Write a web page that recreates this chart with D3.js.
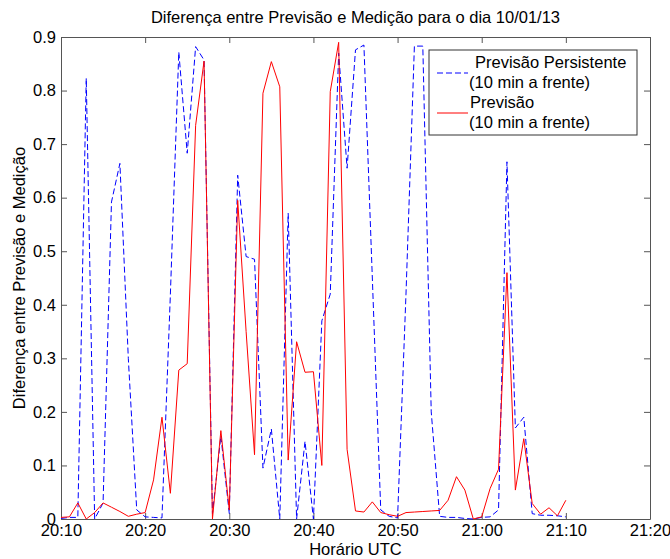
<!DOCTYPE html>
<html>
<head>
<meta charset="utf-8">
<script src="https://cdn.jsdelivr.net/npm/d3@7"></script>
<style>
  body { margin: 0; background: #fff; }
  svg text { font-family: "Liberation Sans", Arial, sans-serif; fill: #000; }
</style>
</head>
<body>
<svg id="chart" width="670" height="559"></svg>
<script>
// data: one sample per minute starting at 20:10
const startTime = "20:10";
const persistente = [0.001, 0.003, 0.003, 0.823, 0.0, 0.03, 0.592, 0.664, 0.30, 0.017,
  0.004, 0.003, 0.002, 0.42, 0.872, 0.683, 0.882, 0.857, 0.01, 0.155,
  0.01, 0.642, 0.49, 0.485, 0.095, 0.168, 0.0, 0.571, 0.0, 0.145,
  0.0, 0.37, 0.42, 0.87, 0.655, 0.876, 0.885, 0.45, 0.017, 0.005,
  0.002, 0.42, 0.883, 0.883, 0.2, 0.005, 0.003, 0.003, 0.001, 0.0,
  0.003, 0.004, 0.017, 0.667, 0.17, 0.19, 0.01, 0.007, 0.007, 0.006, 0.004];
const previsao = [0.003, 0.004, 0.03, 0.0, 0.012, 0.03, 0.022, 0.014, 0.005, 0.009,
  0.012, 0.073, 0.19, 0.048, 0.278, 0.29, 0.735, 0.855, 0.0, 0.165,
  0.017, 0.595, 0.35, 0.12, 0.795, 0.854, 0.807, 0.11, 0.331, 0.274,
  0.275, 0.10, 0.798, 0.89, 0.13, 0.015, 0.013, 0.032, 0.012, 0.008,
  0.005, 0.012, 0.013, 0.014, 0.015, 0.016, 0.035, 0.079, 0.054, 0.0,
  0.004, 0.057, 0.093, 0.46, 0.054, 0.15, 0.029, 0.009, 0.021, 0.006, 0.035];
const xTickLabels = ["20:10", "20:20", "20:30", "20:40", "20:50", "21:00", "21:10", "21:20"];
const yTicks = [0, 0.1, 0.2, 0.3, 0.4, 0.5, 0.6, 0.7, 0.8, 0.9];
const legendLabels = [["Previsão Persistente", "(10 min a frente)"], ["Previsão", "(10 min a frente)"]];

const svg = d3.select("svg#chart");
const width = +svg.attr("width");
const height = +svg.attr("height");
const margin = { top: 37, right: 20, bottom: 40, left: 61 };
const fontSize = 16.5;

const parseTime = d3.utcParse("%H:%M");
const t0 = parseTime(startTime);
const times = persistente.map((_, i) => d3.utcMinute.offset(t0, i));

const x = d3.scaleUtc()
    .domain([parseTime(xTickLabels[0]), parseTime(xTickLabels[xTickLabels.length - 1])])
    .range([margin.left, width - margin.right]);
const y = d3.scaleLinear()
    .domain([0, 0.9])
    .range([height - margin.bottom, margin.top]);

svg.append("rect").attr("width", width).attr("height", height).attr("fill", "#fff");

// axes box with inward ticks (matlab style)
const axisColor = "#555";
const tickLen = 6;
const xTickVals = xTickLabels.map(parseTime);

const gx = svg.append("g").attr("transform", `translate(0,${y(0)})`)
    .call(d3.axisBottom(x).tickValues(xTickVals).tickFormat(d3.utcFormat("%H:%M")).tickSizeInner(-tickLen).tickSizeOuter(0).tickPadding(5));
const gxTop = svg.append("g").attr("transform", `translate(0,${y(0.9)})`)
    .call(d3.axisTop(x).tickValues(xTickVals).tickFormat("").tickSizeInner(-tickLen).tickSizeOuter(0));
const gy = svg.append("g").attr("transform", `translate(${x.range()[0]},0)`)
    .call(d3.axisLeft(y).tickValues(yTicks).tickFormat(d => d === 0 ? "0" : d3.format(".1f")(d)).tickSizeInner(-tickLen).tickSizeOuter(0).tickPadding(5));
const gyRight = svg.append("g").attr("transform", `translate(${x.range()[1]},0)`)
    .call(d3.axisRight(y).tickValues(yTicks).tickFormat("").tickSizeInner(-tickLen).tickSizeOuter(0));

[gx, gxTop, gy, gyRight].forEach(g => {
    g.select(".domain").attr("stroke", axisColor);
    g.selectAll(".tick line").attr("stroke", axisColor);
    g.selectAll("text").attr("font-size", fontSize).attr("fill", "#000")
        .attr("font-family", "Liberation Sans, Arial, sans-serif");
});

// lines
const line = d3.line().x((d, i) => x(times[i])).y(d => y(d));

svg.append("path").datum(persistente)
    .attr("d", line)
    .attr("fill", "none")
    .attr("stroke", "#0000ff")
    .attr("stroke-width", 1)
    .attr("stroke-dasharray", "6,3");

svg.append("path").datum(previsao)
    .attr("d", line)
    .attr("fill", "none")
    .attr("stroke", "#ff0000")
    .attr("stroke-width", 1);

// title and axis labels
svg.append("text")
    .attr("x", (x.range()[0] + x.range()[1]) / 2)
    .attr("y", 23)
    .attr("text-anchor", "middle")
    .attr("font-size", fontSize)
    .text("Diferença entre Previsão e Medição para o dia 10/01/13");

svg.append("text")
    .attr("x", (x.range()[0] + x.range()[1]) / 2)
    .attr("y", 555)
    .attr("text-anchor", "middle")
    .attr("font-size", fontSize)
    .text("Horário UTC");

svg.append("text")
    .attr("transform", `translate(25,${(y(0) + y(0.9)) / 2}) rotate(-90)`)
    .attr("text-anchor", "middle")
    .attr("font-size", fontSize)
    .text("Diferença entre Previsão e Medição");

// legend
const legend = svg.append("g").attr("transform", "translate(429,50)");
legend.append("rect")
    .attr("width", 208).attr("height", 85)
    .attr("fill", "#fff").attr("stroke", "#333").attr("stroke-width", 1);

const legendStyles = [{ color: "#0000ff", dash: "6,3" }, { color: "#ff0000", dash: null }];
legendLabels.forEach((lab, i) => {
    const g = legend.append("g").attr("transform", `translate(0,${i * 40})`);
    g.append("line")
        .attr("x1", 8).attr("x2", 39).attr("y1", 23).attr("y2", 23)
        .attr("stroke", legendStyles[i].color)
        .attr("stroke-dasharray", legendStyles[i].dash);
    g.append("text").attr("x", i === 0 ? 46 : 41).attr("y", 18).attr("font-size", fontSize).text(lab[0]);
    g.append("text").attr("x", 40).attr("y", 38).attr("font-size", fontSize).text(lab[1]);
});
</script>
</body>
</html>
